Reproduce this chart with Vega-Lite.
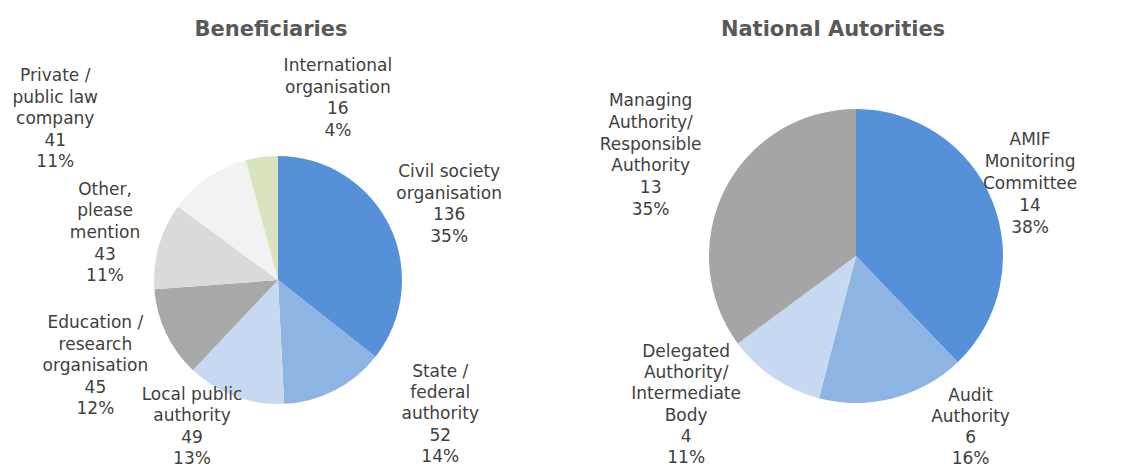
{
  "$schema": "https://vega.github.io/schema/vega-lite/v6.json",
  "background": "white",
  "padding": {"top": 19, "left": 0, "right": 0, "bottom": 0},
  "spacing": 50,
  "bounds": "flush",
  "resolve": {"scale": {"color": "independent", "theta": "independent"}},
  "config": {
    "view": {"stroke": null},
    "title": {"font": "DejaVu Sans", "fontSize": 21, "fontWeight": "bold", "color": "#595959", "offset": 9},
    "text": {"font": "DejaVu Sans", "fontSize": 17, "lineHeight": 21.6, "color": "#404040", "lineBreak": "\n", "align": "center", "baseline": "middle"}
  },
  "hconcat": [
    {
      "width": 556,
      "height": 462,
      "title": {"text": "Beneficiaries", "dx": -7},
      "data": {"values": [
        {"k": 1, "name": "Civil society\norganisation", "n": 136, "pct": 35},
        {"k": 2, "name": "State /\nfederal\nauthority", "n": 52, "pct": 14},
        {"k": 3, "name": "Local public\nauthority", "n": 49, "pct": 13},
        {"k": 4, "name": "Education /\nresearch\norganisation", "n": 45, "pct": 12},
        {"k": 5, "name": "Other,\nplease\nmention", "n": 43, "pct": 11},
        {"k": 6, "name": "Private /\npublic law\ncompany", "n": 41, "pct": 11},
        {"k": 7, "name": "International\norganisation", "n": 16, "pct": 4}
      ]},
      "transform": [
        {"calculate": "datum.name + '\\n' + datum.n + '\\n' + datum.pct + '%'", "as": "lbl"},
        {"stack": "n", "groupby": [], "sort": [{"field": "k", "order": "ascending"}], "as": ["s0", "s1"]},
        {"calculate": "(datum.s0 + datum.s1) / 2", "as": "mid"}
      ],
      "layer": [
        {"mark": {"type": "arc", "outerRadius": 124},
         "encoding": {
           "theta": {"field": "s0", "type": "quantitative", "stack": null, "scale": {"domain": [0, 382], "range": [0, 6.283185307179586], "nice": false, "zero": false}},
           "theta2": {"field": "s1"},
           "color": {"field": "k", "type": "nominal", "legend": null,
             "scale": {"domain": [1, 2, 3, 4, 5, 6, 7], "range": ["#5590D8", "#8DB4E2", "#C6D9F1", "#A8A8A8", "#DADADA", "#F2F2F2", "#D7E4BD"]}}}},
        {"transform": [{"filter": "datum.k == 1"}], "mark": {"type": "text", "radius": 188, "thetaOffset": 0.026, "dy": -30}, "encoding": {"theta": {"field": "mid", "type": "quantitative", "stack": null}, "text": {"field": "lbl"}}},
        {"transform": [{"filter": "datum.k == 2"}], "mark": {"type": "text", "radius": 211, "thetaOffset": -0.40, "dy": -43, "lineHeight": 21.2}, "encoding": {"theta": {"field": "mid", "type": "quantitative", "stack": null}, "text": {"field": "lbl"}}},
        {"transform": [{"filter": "datum.k == 3"}], "mark": {"type": "text", "radius": 170, "thetaOffset": 0.177, "dy": -31.5, "lineHeight": 21.2}, "encoding": {"theta": {"field": "mid", "type": "quantitative", "stack": null}, "text": {"field": "lbl"}}},
        {"transform": [{"filter": "datum.k == 4"}], "mark": {"type": "text", "radius": 201, "thetaOffset": 0.013, "dy": -41}, "encoding": {"theta": {"field": "mid", "type": "quantitative", "stack": null}, "text": {"field": "lbl"}}},
        {"transform": [{"filter": "datum.k == 5"}], "mark": {"type": "text", "radius": 180, "thetaOffset": 0, "dy": -40.5}, "encoding": {"theta": {"field": "mid", "type": "quantitative", "stack": null}, "text": {"field": "lbl"}}},
        {"transform": [{"filter": "datum.k == 6"}], "mark": {"type": "text", "radius": 276, "thetaOffset": -0.339, "dy": -41}, "encoding": {"theta": {"field": "mid", "type": "quantitative", "stack": null}, "text": {"field": "lbl"}}},
        {"transform": [{"filter": "datum.k == 7"}], "mark": {"type": "text", "radius": 193, "thetaOffset": 0.447, "dy": -30.5}, "encoding": {"theta": {"field": "mid", "type": "quantitative", "stack": null}, "text": {"field": "lbl"}}}
      ]
    },
    {
      "width": 500,
      "height": 414,
      "title": {"text": "National Autorities", "dx": -23},
      "data": {"values": [
        {"k": 1, "name": "AMIF\nMonitoring\nCommittee", "n": 14, "pct": 38},
        {"k": 2, "name": "Audit\nAuthority", "n": 6, "pct": 16},
        {"k": 3, "name": "Delegated\nAuthority/\nIntermediate\nBody", "n": 4, "pct": 11},
        {"k": 4, "name": "Managing\nAuthority/\nResponsible\nAuthority", "n": 13, "pct": 35}
      ]},
      "transform": [
        {"calculate": "datum.name + '\\n' + datum.n + '\\n' + datum.pct + '%'", "as": "lbl"},
        {"stack": "n", "groupby": [], "sort": [{"field": "k", "order": "ascending"}], "as": ["s0", "s1"]},
        {"calculate": "(datum.s0 + datum.s1) / 2", "as": "mid"}
      ],
      "layer": [
        {"mark": {"type": "arc", "outerRadius": 147},
         "encoding": {
           "theta": {"field": "s0", "type": "quantitative", "stack": null, "scale": {"domain": [0, 37], "range": [0, 6.283185307179586], "nice": false, "zero": false}},
           "theta2": {"field": "s1"},
           "color": {"field": "k", "type": "nominal", "legend": null,
             "scale": {"domain": [1, 2, 3, 4], "range": ["#5590D8", "#8DB4E2", "#C6D9F1", "#A5A5A5"]}}}},
        {"transform": [{"filter": "datum.k == 1"}], "mark": {"type": "text", "radius": 190, "thetaOffset": -0.03, "dy": -40, "lineHeight": 22}, "encoding": {"theta": {"field": "mid", "type": "quantitative", "stack": null}, "text": {"field": "lbl"}}},
        {"transform": [{"filter": "datum.k == 2"}], "mark": {"type": "text", "radius": 206, "thetaOffset": -0.335, "dy": -31.5, "lineHeight": 21.2}, "encoding": {"theta": {"field": "mid", "type": "quantitative", "stack": null}, "text": {"field": "lbl"}}},
        {"transform": [{"filter": "datum.k == 3"}], "mark": {"type": "text", "radius": 226, "thetaOffset": 0.256, "dy": -53, "lineHeight": 21.2}, "encoding": {"theta": {"field": "mid", "type": "quantitative", "stack": null}, "text": {"field": "lbl"}}},
        {"transform": [{"filter": "datum.k == 4"}], "mark": {"type": "text", "radius": 230, "thetaOffset": 0, "dy": -51.5, "lineHeight": 21.8}, "encoding": {"theta": {"field": "mid", "type": "quantitative", "stack": null}, "text": {"field": "lbl"}}}
      ]
    }
  ]
}
